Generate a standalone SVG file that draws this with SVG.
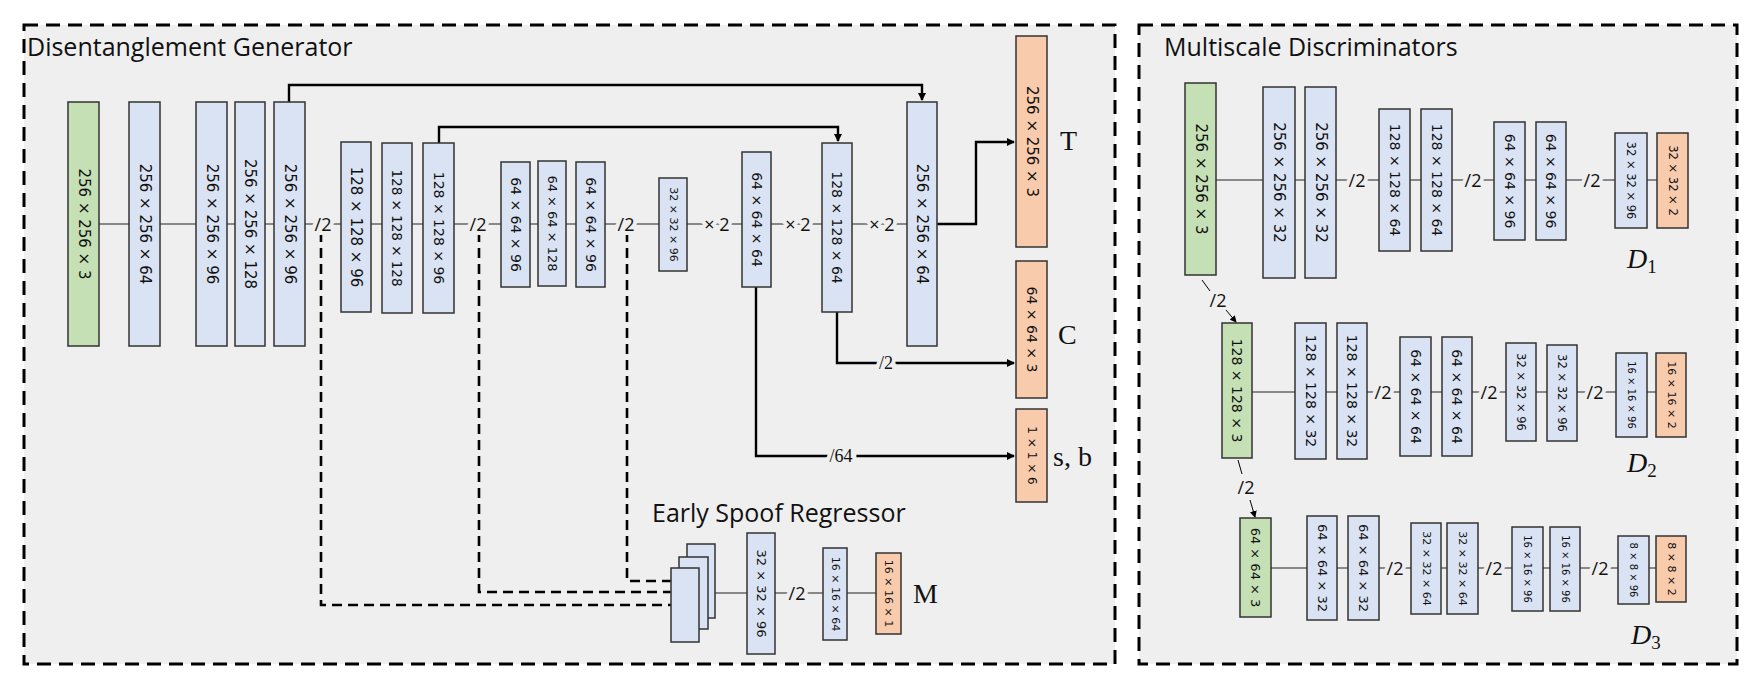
<svg xmlns="http://www.w3.org/2000/svg" width="1760" height="682" viewBox="0 0 1760 682">
<style>
.frame{fill:#efefef;stroke:#000;stroke-width:3;stroke-dasharray:14,8}
.g{fill:#c5e0b4;stroke:#333;stroke-width:1.5}
.b{fill:#dae3f3;stroke:#333;stroke-width:1.5}
.o{fill:#f8cbad;stroke:#333;stroke-width:1.5}
.t{font-family:"DejaVu Sans",sans-serif;text-anchor:middle;dominant-baseline:central;fill:#111}
.lbl{font-family:"Open Sans","Liberation Sans",sans-serif;font-size:18px;text-anchor:middle;dominant-baseline:central;fill:#111;paint-order:stroke;stroke:#efefef;stroke-width:8}
.title{font-family:"Open Sans","Liberation Sans",sans-serif;font-size:25px;fill:#111}
.out{font-family:"Liberation Serif",serif;font-size:28px;fill:#111}
.thin{stroke:#666;stroke-width:1.3;fill:none}
.thick{stroke:#000;stroke-width:2.4;fill:none}
.dash{stroke:#000;stroke-width:2.6;fill:none;stroke-dasharray:10,6}
</style>
<defs>
<marker id="ah" markerWidth="8" markerHeight="8" refX="7" refY="4" orient="auto" markerUnits="userSpaceOnUse"><path d="M0,0 L8,4 L0,8 z" fill="#000"/></marker>
<marker id="ahs" markerWidth="7" markerHeight="7" refX="6" refY="3.5" orient="auto" markerUnits="userSpaceOnUse"><path d="M0,0 L7,3.5 L0,7 z" fill="#000"/></marker>
</defs>
<g id="panels">
<rect class="frame" x="24" y="25" width="1091" height="639"/>
<rect class="frame" x="1139" y="25" width="598" height="639"/>
<text class="title" x="27" y="56">Disentanglement Generator</text>
<text class="title" x="1164" y="56">Multiscale Discriminators</text>
<text class="title" x="652" y="522">Early Spoof Regressor</text>
</g>
<g id="connectors">
<line class="thin" x1="99" y1="224" x2="907" y2="224"/>
<path class="thick" d="M289,102 V85 H922 V100" marker-end="url(#ah)"/>
<path class="thick" d="M439,143 V127 H838 V141" marker-end="url(#ah)"/>
<path class="thick" d="M937,224 H976 V142 H1014" marker-end="url(#ah)"/>
<path class="thick" d="M837,312 V363 H1014" marker-end="url(#ah)"/>
<path class="thick" d="M756,287 V456 H1014" marker-end="url(#ah)"/>
<path class="dash" d="M321,232 V605 H671"/>
<path class="dash" d="M479,232 V592 H671"/>
<path class="dash" d="M627,232 V581 H671"/>
<line class="thin" x1="715" y1="593" x2="876" y2="593"/>
<line class="thin" x1="1216" y1="180" x2="1657" y2="180"/>
<line class="thin" x1="1252" y1="392" x2="1656" y2="392"/>
<line class="thin" x1="1271" y1="568" x2="1656" y2="568"/>
<line stroke="#000" stroke-width="1" x1="1202" y1="280" x2="1210" y2="291"/>
<line stroke="#000" stroke-width="1" x1="1226" y1="310" x2="1236" y2="322" marker-end="url(#ahs)"/>
<line stroke="#000" stroke-width="1" x1="1238" y1="460" x2="1242" y2="474"/>
<line stroke="#000" stroke-width="1" x1="1250" y1="500" x2="1255" y2="517" marker-end="url(#ahs)"/>
<text class="lbl" x="323" y="224">/2</text>
<text class="lbl" x="478" y="224">/2</text>
<text class="lbl" x="626" y="224">/2</text>
<text class="lbl" x="717" y="224">× 2</text>
<text class="lbl" x="798" y="224">× 2</text>
<text class="lbl" x="882" y="224">× 2</text>
<text class="lbl" x="886" y="363" style="font-family:'Liberation Serif',serif">/2</text>
<text class="lbl" x="841" y="456" style="font-family:'Liberation Serif',serif">/64</text>
<text class="lbl" x="797" y="593">/2</text>
<text class="lbl" x="1357" y="180">/2</text>
<text class="lbl" x="1473" y="180">/2</text>
<text class="lbl" x="1592" y="180">/2</text>
<text class="lbl" x="1383" y="392">/2</text>
<text class="lbl" x="1489" y="392">/2</text>
<text class="lbl" x="1595" y="392">/2</text>
<text class="lbl" x="1395" y="568">/2</text>
<text class="lbl" x="1494" y="568">/2</text>
<text class="lbl" x="1600" y="568">/2</text>
<text class="lbl" x="1218" y="300" style="stroke:none">/2</text>
<text class="lbl" x="1246" y="487" style="stroke:none">/2</text>
</g>
<g id="generator">
<rect class="g" x="68" y="102" width="31" height="244"/><text class="t" font-size="15" transform="rotate(90 83.5 224)" x="83.5" y="224">256 × 256 × 3</text>
<rect class="b" x="129" y="102" width="31" height="244"/><text class="t" font-size="15" transform="rotate(90 144.5 224)" x="144.5" y="224">256 × 256 × 64</text>
<rect class="b" x="196" y="102" width="31" height="244"/><text class="t" font-size="15" transform="rotate(90 211.5 224)" x="211.5" y="224">256 × 256 × 96</text>
<rect class="b" x="235" y="102" width="30" height="244"/><text class="t" font-size="15" transform="rotate(90 250 224)" x="250" y="224">256 × 256 × 128</text>
<rect class="b" x="274" y="102" width="31" height="244"/><text class="t" font-size="15" transform="rotate(90 289.5 224)" x="289.5" y="224">256 × 256 × 96</text>
<rect class="b" x="341" y="142" width="30" height="170"/><text class="t" font-size="15" transform="rotate(90 356 227)" x="356" y="227">128 × 128 × 96</text>
<rect class="b" x="382" y="143" width="30" height="170"/><text class="t" font-size="13.5" transform="rotate(90 397 228)" x="397" y="228">128 × 128 × 128</text>
<rect class="b" x="423" y="143" width="31" height="170"/><text class="t" font-size="14" transform="rotate(90 438.5 228)" x="438.5" y="228">128 × 128 × 96</text>
<rect class="b" x="501" y="162" width="29" height="125"/><text class="t" font-size="14" transform="rotate(90 515.5 224.5)" x="515.5" y="224.5">64 × 64 × 96</text>
<rect class="b" x="538" y="161" width="28" height="125"/><text class="t" font-size="13" transform="rotate(90 552 223.5)" x="552" y="223.5">64 × 64 × 128</text>
<rect class="b" x="576" y="162" width="29" height="125"/><text class="t" font-size="14" transform="rotate(90 590.5 224.5)" x="590.5" y="224.5">64 × 64 × 96</text>
<rect class="b" x="659" y="178" width="28" height="93"/><text class="t" font-size="11" transform="rotate(90 673 224.5)" x="673" y="224.5">32 × 32 × 96</text>
<rect class="b" x="742" y="152" width="29" height="135"/><text class="t" font-size="14" transform="rotate(90 756.5 219.5)" x="756.5" y="219.5">64 × 64 × 64</text>
<rect class="b" x="822" y="143" width="30" height="169"/><text class="t" font-size="14" transform="rotate(90 837 227.5)" x="837" y="227.5">128 × 128 × 64</text>
<rect class="b" x="907" y="102" width="30" height="244"/><text class="t" font-size="15" transform="rotate(90 922 224)" x="922" y="224">256 × 256 × 64</text>
</g>
<g id="outputs">
<rect class="o" x="1016" y="36" width="31" height="211"/><text class="t" font-size="15" transform="rotate(90 1031.5 141.5)" x="1031.5" y="141.5">256 × 256 × 3</text>
<rect class="o" x="1016" y="261" width="31" height="137"/><text class="t" font-size="14" transform="rotate(90 1031.5 329.5)" x="1031.5" y="329.5">64 × 64 × 3</text>
<rect class="o" x="1016" y="409" width="31" height="93"/><text class="t" font-size="12" transform="rotate(90 1031.5 455.5)" x="1031.5" y="455.5">1 × 1 × 6</text>
<text class="out" x="1060" y="150">T</text>
<text class="out" x="1058" y="344">C</text>
<text class="out" x="1053" y="466">s, b</text>
</g>
<g id="esr">
<rect class="b" x="687" y="544" width="28" height="74"/>
<rect class="b" x="679" y="557" width="29" height="72"/>
<rect class="b" x="671" y="568" width="28" height="74"/>
<rect class="b" x="747" y="533" width="28" height="121"/><text class="t" font-size="13" transform="rotate(90 761 593.5)" x="761" y="593.5">32 × 32 × 96</text>
<rect class="b" x="823" y="548" width="24" height="92"/><text class="t" font-size="11" transform="rotate(90 835 594)" x="835" y="594">16 × 16 × 64</text>
<rect class="o" x="876" y="553" width="25" height="81"/><text class="t" font-size="11" transform="rotate(90 888.5 593.5)" x="888.5" y="593.5">16 × 16 × 1</text>
<text class="out" x="913" y="603">M</text>
</g>
<g id="d1">
<rect class="g" x="1185" y="83" width="31" height="192"/><text class="t" font-size="15" transform="rotate(90 1200.5 179)" x="1200.5" y="179">256 × 256 × 3</text>
<rect class="b" x="1263" y="87" width="32" height="191"/><text class="t" font-size="15" transform="rotate(90 1279 182.5)" x="1279" y="182.5">256 × 256 × 32</text>
<rect class="b" x="1305" y="87" width="31" height="191"/><text class="t" font-size="15" transform="rotate(90 1320.5 182.5)" x="1320.5" y="182.5">256 × 256 × 32</text>
<rect class="b" x="1379" y="109" width="31" height="142"/><text class="t" font-size="14" transform="rotate(90 1394.5 180)" x="1394.5" y="180">128 × 128 × 64</text>
<rect class="b" x="1421" y="109" width="31" height="142"/><text class="t" font-size="14" transform="rotate(90 1436.5 180)" x="1436.5" y="180">128 × 128 × 64</text>
<rect class="b" x="1494" y="122" width="31" height="118"/><text class="t" font-size="14" transform="rotate(90 1509.5 181)" x="1509.5" y="181">64 × 64 × 96</text>
<rect class="b" x="1536" y="122" width="30" height="118"/><text class="t" font-size="14" transform="rotate(90 1551 181)" x="1551" y="181">64 × 64 × 96</text>
<rect class="b" x="1615" y="133" width="32" height="95"/><text class="t" font-size="11.5" transform="rotate(90 1631 180.5)" x="1631" y="180.5">32 × 32 × 96</text>
<rect class="o" x="1657" y="133" width="31" height="95"/><text class="t" font-size="11.5" transform="rotate(90 1672.5 180.5)" x="1672.5" y="180.5">32 × 32 × 2</text>
<text class="out" x="1627" y="268"><tspan font-style="italic">D</tspan><tspan font-size="19" dy="5">1</tspan></text>
</g>
<g id="d2">
<rect class="g" x="1222" y="323" width="30" height="135"/><text class="t" font-size="14" transform="rotate(90 1237 390.5)" x="1237" y="390.5">128 × 128 × 3</text>
<rect class="b" x="1295" y="323" width="31" height="136"/><text class="t" font-size="14" transform="rotate(90 1310.5 391)" x="1310.5" y="391">128 × 128 × 32</text>
<rect class="b" x="1337" y="323" width="30" height="136"/><text class="t" font-size="14" transform="rotate(90 1352 391)" x="1352" y="391">128 × 128 × 32</text>
<rect class="b" x="1400" y="337" width="31" height="119"/><text class="t" font-size="14" transform="rotate(90 1415.5 396.5)" x="1415.5" y="396.5">64 × 64 × 64</text>
<rect class="b" x="1442" y="337" width="30" height="119"/><text class="t" font-size="14" transform="rotate(90 1457 396.5)" x="1457" y="396.5">64 × 64 × 64</text>
<rect class="b" x="1506" y="343" width="30" height="98"/><text class="t" font-size="11.5" transform="rotate(90 1521 392)" x="1521" y="392">32 × 32 × 96</text>
<rect class="b" x="1547" y="345" width="30" height="96"/><text class="t" font-size="11.5" transform="rotate(90 1562 393)" x="1562" y="393">32 × 32 × 96</text>
<rect class="b" x="1616" y="353" width="31" height="84"/><text class="t" font-size="10" transform="rotate(90 1631.5 395)" x="1631.5" y="395">16 × 16 × 96</text>
<rect class="o" x="1656" y="353" width="30" height="84"/><text class="t" font-size="11" transform="rotate(90 1671 395)" x="1671" y="395">16 × 16 × 2</text>
<text class="out" x="1627" y="472"><tspan font-style="italic">D</tspan><tspan font-size="19" dy="5">2</tspan></text>
</g>
<g id="d3">
<rect class="g" x="1240" y="518" width="31" height="99"/><text class="t" font-size="13" transform="rotate(90 1255.5 567.5)" x="1255.5" y="567.5">64 × 64 × 3</text>
<rect class="b" x="1307" y="516" width="30" height="104"/><text class="t" font-size="13" transform="rotate(90 1322 568)" x="1322" y="568">64 × 64 × 32</text>
<rect class="b" x="1348" y="516" width="31" height="104"/><text class="t" font-size="13" transform="rotate(90 1363.5 568)" x="1363.5" y="568">64 × 64 × 32</text>
<rect class="b" x="1411" y="523" width="30" height="91"/><text class="t" font-size="11" transform="rotate(90 1426 568.5)" x="1426" y="568.5">32 × 32 × 64</text>
<rect class="b" x="1447" y="523" width="31" height="91"/><text class="t" font-size="11" transform="rotate(90 1462.5 568.5)" x="1462.5" y="568.5">32 × 32 × 64</text>
<rect class="b" x="1512" y="527" width="31" height="84"/><text class="t" font-size="10" transform="rotate(90 1527.5 569)" x="1527.5" y="569">16 × 16 × 96</text>
<rect class="b" x="1550" y="527" width="30" height="84"/><text class="t" font-size="10" transform="rotate(90 1565 569)" x="1565" y="569">16 × 16 × 96</text>
<rect class="b" x="1618" y="536" width="31" height="68"/><text class="t" font-size="10" transform="rotate(90 1633.5 570)" x="1633.5" y="570">8 × 8 × 96</text>
<rect class="o" x="1656" y="536" width="30" height="66"/><text class="t" font-size="11" transform="rotate(90 1671 569)" x="1671" y="569">8 × 8 × 2</text>
<text class="out" x="1631" y="644"><tspan font-style="italic">D</tspan><tspan font-size="19" dy="5">3</tspan></text>
</g>
</svg>
